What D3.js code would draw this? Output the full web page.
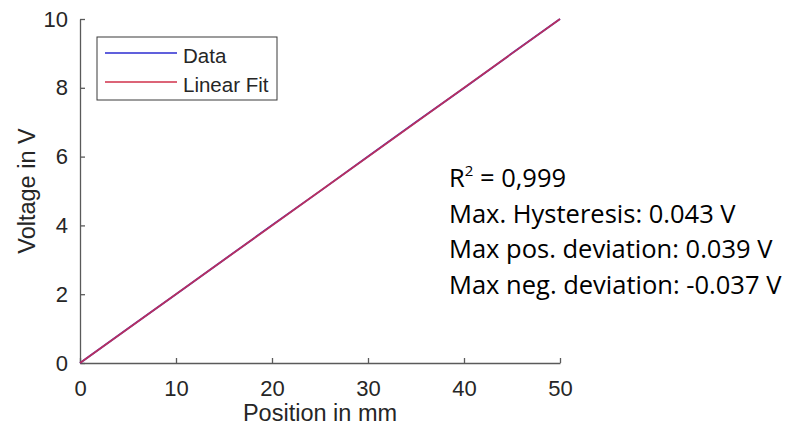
<!DOCTYPE html>
<html>
<head>
<meta charset="utf-8">
<script src="https://cdn.jsdelivr.net/npm/d3@7"></script>
<style>
  body { margin: 0; background: #fff; }
  svg { display: block; }
</style>
</head>
<body>
<div id="viz"></div>
<script>
var width = 785, height = 429
var margin = {left: 80, right: 225, top: 19, bottom: 66}

// measured series (position in mm, voltage in V)
var positions = [0, 5, 10, 15, 20, 25, 30, 35, 40, 45, 50]
var voltages = [0.0, 1.004, 1.998, 3.003, 4.002, 4.996, 6.001, 7.004, 7.997, 9.002, 10.0]
// linear fit endpoints
var fitX = [0, 50]
var fitY = [0, 10]

var xTicks = [0, 10, 20, 30, 40, 50]
var yTicks = [0, 2, 4, 6, 8, 10]
var legendLabels = ["Data", "Linear Fit"]
var legendColors = ["#2b2bd0", "#d0304a"]
var notes = ["= 0,999", "Max. Hysteresis: 0.043 V", "Max pos. deviation: 0.039 V", "Max neg. deviation: -0.037 V"]

var svg = d3.select("#viz").append("svg").attr("width", width).attr("height", height)

var x = d3.scaleLinear().domain([0, 50]).range([margin.left, width - margin.right])
var y = d3.scaleLinear().domain([0, 10]).range([height - margin.bottom, margin.top])

svg.append("g")
  .attr("transform", "translate(0," + y(0) + ")")
  .call(d3.axisBottom(x).tickValues(xTicks).tickSizeInner(-5).tickSizeOuter(0).tickPadding(17))
svg.append("g")
  .attr("transform", "translate(" + x(0) + ",0)")
  .call(d3.axisLeft(y).tickValues(yTicks).tickSizeInner(-5).tickSizeOuter(0).tickPadding(12))
svg.selectAll(".domain, .tick line").attr("stroke", "#5a5a5a").attr("stroke-width", 1.3)
svg.selectAll(".tick text")
  .attr("font-family", "Liberation Sans, Arial, sans-serif")
  .attr("font-size", 22)
  .attr("fill", "#262626")

svg.append("text")
  .attr("x", (x(0) + x(50)) / 2).attr("y", 421)
  .attr("text-anchor", "middle")
  .attr("font-family", "Liberation Sans, Arial, sans-serif").attr("font-size", 23.5).attr("fill", "#262626")
  .text("Position in mm")
svg.append("text")
  .attr("transform", "translate(35," + ((y(0) + y(10)) / 2) + ") rotate(-90)")
  .attr("text-anchor", "middle")
  .attr("font-family", "Liberation Sans, Arial, sans-serif").attr("font-size", 23.5).attr("fill", "#262626")
  .text("Voltage in V")

var line = d3.line().x(function(d) { return x(d[0]) }).y(function(d) { return y(d[1]) })

svg.append("path")
  .datum(positions.map(function(p, i) { return [p, voltages[i]] }))
  .attr("d", line).attr("fill", "none")
  .attr("stroke", legendColors[0]).attr("stroke-width", 1.8)
svg.append("path")
  .datum(fitX.map(function(p, i) { return [p, fitY[i]] }))
  .attr("d", line).attr("fill", "none")
  .attr("stroke", legendColors[1]).attr("stroke-width", 1.8).attr("stroke-opacity", 0.85)

// legend
var lg = svg.append("g").attr("transform", "translate(97,37)")
lg.append("rect").attr("width", 180).attr("height", 63)
  .attr("fill", "#fff").attr("stroke", "#3a3a3a").attr("stroke-width", 1)
legendLabels.forEach(function(lab, i) {
  var yy = 16 + i * 29
  lg.append("line").attr("x1", 8).attr("x2", 80).attr("y1", yy).attr("y2", yy)
    .attr("stroke", legendColors[i]).attr("stroke-width", 1.3)
  lg.append("text").attr("x", 86).attr("y", yy + 10)
    .attr("font-family", "Liberation Sans, Arial, sans-serif").attr("font-size", 20.5).attr("fill", "#262626")
    .text(lab)
})

// annotation
var nt = svg.append("g")
notes.forEach(function(s, i) {
  var t = nt.append("text").attr("x", 449).attr("y", 187 + i * 35.7)
    .attr("font-family", "Open Sans, sans-serif").attr("font-size", 25.5).attr("fill", "#000")
  if (i == 0) {
    t.append("tspan").text("R")
    t.append("tspan").attr("dy", -11).attr("font-size", 15).text("2")
    t.append("tspan").attr("dy", 11).text(" " + s)
  } else {
    t.text(s)
  }
})
</script>
</body>
</html>
